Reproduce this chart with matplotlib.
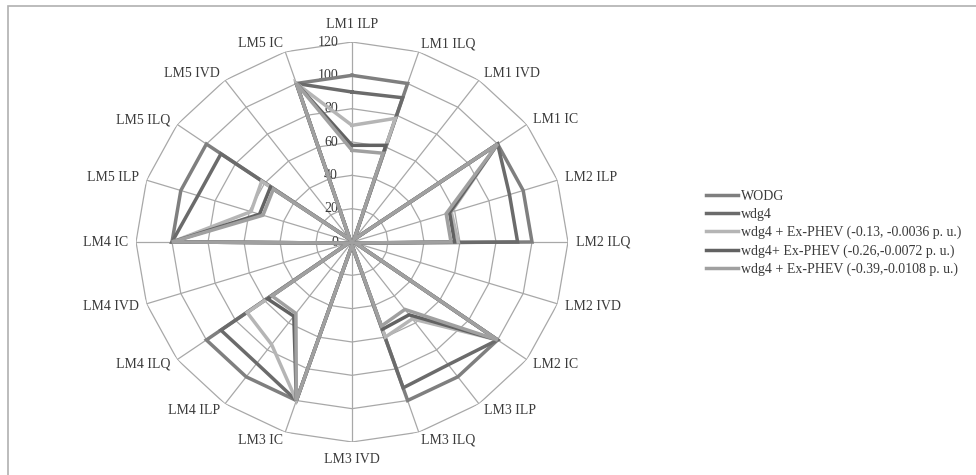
import numpy as np
import matplotlib.pyplot as plt
from matplotlib.patches import Rectangle

plt.rcParams['font.family'] = ['Liberation Serif', 'DejaVu Serif']

# categories run clockwise from the top
categories = ['LM1 ILP', 'LM1 ILQ', 'LM1 IVD', 'LM1 IC',
              'LM2 ILP', 'LM2 ILQ', 'LM2 IVD', 'LM2 IC',
              'LM3 ILP', 'LM3 ILQ', 'LM3 IVD', 'LM3 IC',
              'LM4 ILP', 'LM4 ILQ', 'LM4 IVD', 'LM4 IC',
              'LM5 ILP', 'LM5 ILQ', 'LM5 IVD', 'LM5 IC']

wodg = [100, 100, 2, 100, 100, 100, 2, 100, 100, 100, 2, 100,
        100, 100, 2, 100, 100, 100, 2, 100]
wdg4 = [90, 91, 2, 100, 92, 92, 2, 100, 91, 92, 2, 100,
        90, 90, 2, 100, 90, 90, 2, 100]
phev_013 = [70, 78, 2, 100, 58, 59, 2, 100, 57, 60, 2, 100,
            76, 72, 2, 100, 59, 62, 2, 100]
phev_026 = [58, 61, 2, 100, 57, 57, 2, 100, 54, 55, 2, 100,
            55, 58, 2, 100, 54, 56, 2, 100]
phev_039 = [55, 56, 2, 100, 55, 55, 2, 100, 50, 53, 2, 100,
            53, 55, 2, 100, 52, 54, 2, 100]

series = [wodg, wdg4, phev_013, phev_026, phev_039]
series_labels = ['WODG', 'wdg4',
                 'wdg4 + Ex-PHEV (-0.13, -0.0036 p. u.)',
                 'wdg4+ Ex-PHEV (-0.26,-0.0072 p. u.)',
                 'wdg4 + Ex-PHEV (-0.39,-0.0108 p. u.)']
series_colors = ['#7f7f7f', '#6b6b6b', '#b5b5b5', '#626262', '#a0a0a0']

radial_ticks = [0, 20, 40, 60, 80, 100, 120]

text_color = '#3a3a3a'
grid_color = '#a8a8a8'

n = len(categories)
theta = np.arange(n) * 2 * np.pi / n
theta_closed = np.append(theta, theta[0])

fig = plt.figure(figsize=(9.76, 4.75), dpi=100)
fig.patches.append(Rectangle((8 / 976, -0.1), 1.2, 1 - 6 / 475 + 0.1,
                             transform=fig.transFigure, fill=False,
                             edgecolor='#b0b0b0', lw=1.2))

ax = fig.add_axes([136 / 976, 33 / 475, 432 / 976, 400 / 475], projection='polar')
ax.set_aspect('auto')
ax.set_theta_zero_location('N')
ax.set_theta_direction(-1)
ax.set_ylim(0, radial_ticks[-1])
ax.grid(False)
ax.spines['polar'].set_visible(False)
ax.set_xticks([])
ax.set_yticks([])
ax.patch.set_visible(False)

# polygon web
for r in radial_ticks[1:]:
    ax.plot(theta_closed, [r] * (n + 1), color=grid_color, lw=0.9, zorder=1)
for t in theta:
    ax.plot([t, t], [0, radial_ticks[-1]], color=grid_color, lw=0.9, zorder=1)

for r in radial_ticks:
    ax.annotate(str(r), xy=(0, r), xytext=(-10, 0), textcoords='offset points',
                ha='right', va='center', fontsize=10, color=text_color)

for t, name in zip(theta, categories):
    s, c = np.sin(t), np.cos(t)
    ha = 'left' if s > 0.2 else ('right' if s < -0.2 else 'center')
    va = 'bottom' if c > 0.99 else ('top' if c < -0.99 else 'center')
    d = 8 if abs(c) > 0.99 else 6
    ax.annotate(name, xy=(t, radial_ticks[-1]), xytext=(s * d, c * d),
                textcoords='offset points', ha=ha, va=va, fontsize=10,
                color=text_color, annotation_clip=False)

handles = []
for vals, label, color in zip(series, series_labels, series_colors):
    h, = ax.plot(theta_closed, vals + vals[:1], color=color, lw=2.5,
                 label=label, zorder=3, solid_joinstyle='miter')
    handles.append(h)

fig.legend(handles=handles, loc='upper left', bbox_to_anchor=(706 / 976, 1 - 190 / 475),
           frameon=False, fontsize=10, handlelength=2.3, handletextpad=0.2,
           labelspacing=0.35, borderpad=0, borderaxespad=0, labelcolor=text_color)

fig.savefig('out.png', dpi=100)
